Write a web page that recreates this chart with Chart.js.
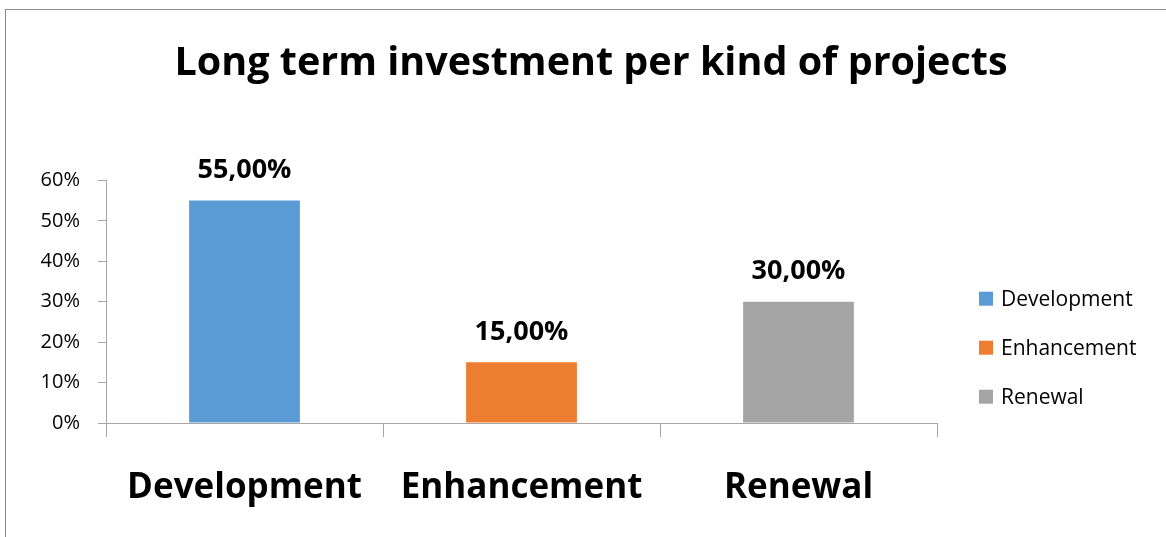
<!DOCTYPE html>
<html>
<head>
<meta charset="utf-8">
<script src="https://cdn.jsdelivr.net/npm/chart.js@4"></script>
<style>
  html, body { margin: 0; padding: 0; background: #fff; overflow: hidden; }
  #wrap { position: relative; width: 1166px; height: 537px; }
  #frame { position: absolute; left: 5px; top: 9px; width: 1200px; height: 600px;
           border-left: 1px solid #8c8c8c; border-top: 1px solid #8c8c8c; }
  canvas { position: absolute; left: 0; top: 0; }
</style>
</head>
<body>
<div id="wrap">
  <div id="frame"></div>
  <canvas id="myChart" width="1166" height="537"></canvas>
</div>
<script>
// Categories and values (as fractions)
const categories = ['Development', 'Enhancement', 'Renewal'];
const shares = [0.55, 0.15, 0.30];
const barColors = ['#5B9BD5', '#ED7D31', '#A5A5A5'];
const yTicks = [0, 0.1, 0.2, 0.3, 0.4, 0.5, 0.6];

const FONT = "'Open Sans', sans-serif";
const axisGray = '#A6A6A6';

// value labels above bars, e.g. 55,00%
const valueLabels = {
  id: 'valueLabels',
  afterDatasetsDraw(chart) {
    const ctx = chart.ctx;
    const meta = chart.getDatasetMeta(0);
    ctx.save();
    ctx.font = 'bold 27px ' + FONT;
    ctx.fillStyle = '#000';
    ctx.textAlign = 'center';
    ctx.textBaseline = 'middle';
    meta.data.forEach((bar, i) => {
      const txt = (shares[i] * 100).toFixed(2).replace('.', ',') + '%';
      ctx.fillText(txt, bar.x, bar.y - 30);
    });
    ctx.restore();
  }
};

// legend on the right, square swatches
const sideLegend = {
  id: 'sideLegend',
  afterDraw(chart) {
    const ctx = chart.ctx;
    const area = chart.chartArea;
    const x0 = area.right + 42;
    const yMid = (area.top + area.bottom) / 2 + 46;
    ctx.save();
    ctx.font = '21px ' + FONT;
    ctx.textAlign = 'left';
    ctx.textBaseline = 'middle';
    chart.data.labels.forEach((lab, i) => {
      const y = yMid + (i - 1) * 49;
      ctx.fillStyle = barColors[i];
      ctx.fillRect(x0, y - 7, 14, 14);
      ctx.fillStyle = '#000';
      ctx.fillText(lab, x0 + 22, y + 1);
    });
    ctx.restore();
  }
};

const chart = new Chart(document.getElementById('myChart'), {
  type: 'bar',
  data: {
    labels: categories,
    datasets: [{
      label: 'Share',
      data: shares,
      backgroundColor: barColors,
      borderWidth: 0,
      categoryPercentage: 1,
      barPercentage: 0.4
    }]
  },
  options: {
    responsive: false,
    animation: false,
    layout: { padding: { left: 16, right: 0, top: 0, bottom: 0 } },
    plugins: {
      legend: { display: false },
      tooltip: { enabled: false },
      title: {
        display: true,
        text: 'Long term investment per kind of projects',
        color: '#000',
        font: { family: FONT, size: 39.5, weight: 'bold', lineHeight: 1.2 },
        padding: { top: 40, bottom: 93 }
      }
    },
    scales: {
      x: {
        afterFit(scale) { scale.height = 114; },
        grid: { drawOnChartArea: false, tickLength: 14, color: axisGray, offset: true },
        border: { color: axisGray },
        ticks: { color: '#000', padding: 30, font: { family: FONT, size: 35, weight: 'bold' } }
      },
      y: {
        min: 0,
        max: 0.6,
        afterFit(scale) { scale.width = 90; },
        afterBuildTicks(scale) { scale.ticks = yTicks.map(v => ({ value: v })); },
        grid: { drawOnChartArea: false, tickLength: 8, color: axisGray },
        border: { color: axisGray },
        ticks: {
          color: '#000',
          padding: 18,
          font: { family: FONT, size: 20 },
          callback: v => Math.round(v * 100) + '%'
        }
      },
      // empty right-hand axis that only reserves room for the legend
      legendSpace: {
        position: 'right',
        afterFit(scale) { scale.width = 229; },
        grid: { display: false },
        border: { display: false },
        ticks: { display: false }
      }
    }
  },
  plugins: [valueLabels, sideLegend]
});
</script>
</body>
</html>
